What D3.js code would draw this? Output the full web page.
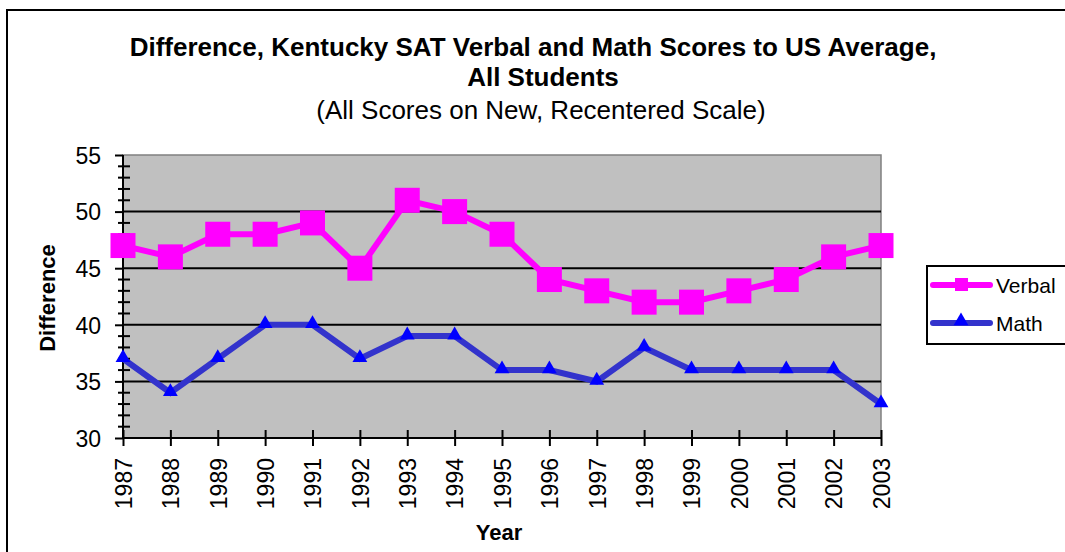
<!DOCTYPE html>
<html>
<head>
<meta charset="utf-8">
<script src="https://cdn.jsdelivr.net/npm/d3@7"></script>
<style>
  body { margin: 0; background: #fff; }
  svg { font-family: "Liberation Sans", Arial, sans-serif; display: block; }
</style>
</head>
<body>
<div id="chart"></div>
<script>
// data
const years = [1987, 1988, 1989, 1990, 1991, 1992, 1993, 1994, 1995, 1996, 1997, 1998, 1999, 2000, 2001, 2002, 2003];
const verbal = [47, 46, 48, 48, 49, 45, 51, 50, 48, 44, 43, 42, 42, 43, 44, 46, 47];
const math = [37, 34, 37, 40, 40, 37, 39, 39, 36, 36, 35, 38, 36, 36, 36, 36, 33];
const yTicks = [30, 35, 40, 45, 50, 55];
const seriesNames = ["Verbal", "Math"];

const W = 1065, H = 552;
const plot = { left: 123, right: 881, top: 155, bottom: 438 };

const svg = d3.select("#chart")
    .append("svg")
    .attr("width", W)
    .attr("height", H);

// outer chart border (runs off right/bottom)
svg.append("rect")
    .attr("x", 7).attr("y", 10)
    .attr("width", 1070).attr("height", 560)
    .attr("fill", "#fff")
    .attr("stroke", "#000")
    .attr("stroke-width", 2);

const x = d3.scalePoint()
    .domain(years)
    .range([plot.left, plot.right]);

const y = d3.scaleLinear()
    .domain([30, 55])
    .range([plot.bottom, plot.top]);

// plot background
svg.append("rect")
    .attr("x", plot.left).attr("y", plot.top)
    .attr("width", plot.right - plot.left)
    .attr("height", plot.bottom - plot.top)
    .attr("fill", "#c0c0c0")
    .attr("stroke", "#808080")
    .attr("stroke-width", 1.5);

// gridlines
svg.selectAll(".grid")
    .data(yTicks.filter(d => d > 30 && d < 55))
    .enter()
    .append("line")
    .attr("class", "grid")
    .attr("x1", plot.left).attr("x2", plot.right)
    .attr("y1", d => y(d)).attr("y2", d => y(d))
    .attr("stroke", "#000")
    .attr("stroke-width", 2);

// y axis
const yAxisGrp = svg.append("g")
    .attr("transform", `translate(${plot.left},0)`)
    .call(d3.axisLeft(y).tickValues(yTicks).tickSize(8).tickPadding(14));
yAxisGrp.select(".domain").attr("stroke-width", 2).attr("d", `M0,${plot.top}V${plot.bottom}`);
yAxisGrp.selectAll(".tick line").attr("stroke-width", 2);
yAxisGrp.selectAll("text").style("font-size", "23px").attr("fill", "#000").attr("dy", "0.36em");

// minor ticks every unit
svg.append("g")
    .selectAll("line")
    .data(d3.range(31, 55).filter(d => d % 5 !== 0))
    .enter()
    .append("line")
    .attr("x1", plot.left - 5).attr("x2", plot.left + 7)
    .attr("y1", d => y(d)).attr("y2", d => y(d))
    .attr("stroke", "#000")
    .attr("stroke-width", 2);

// x axis
const xAxisGrp = svg.append("g")
    .attr("transform", `translate(0,${plot.bottom})`)
    .call(d3.axisBottom(x).tickSizeInner(8).tickSizeOuter(0).tickPadding(6));
xAxisGrp.select(".domain").attr("stroke-width", 2).attr("d", `M${plot.left},0H${plot.right}`);
xAxisGrp.selectAll(".tick line").attr("y1", -8).attr("y2", 8).attr("stroke-width", 2);
xAxisGrp.selectAll("text")
    .style("font-size", "23px")
    .attr("fill", "#000")
    .attr("transform", "rotate(-90)")
    .attr("x", -20).attr("y", 0).attr("dy", "0.36em")
    .style("text-anchor", "end");

// lines
const verbalData = years.map((yr, i) => ({ year: yr, v: verbal[i] }));
const mathData = years.map((yr, i) => ({ year: yr, v: math[i] }));

const line = d3.line()
    .x(d => x(d.year))
    .y(d => y(d.v));

svg.append("path")
    .datum(mathData)
    .attr("fill", "none")
    .attr("stroke", "#3333cc")
    .attr("stroke-width", 6)
    .attr("d", line);

svg.append("path")
    .datum(verbalData)
    .attr("fill", "none")
    .attr("stroke", "#ff00ff")
    .attr("stroke-width", 6)
    .attr("d", line);

const tri = d3.symbol().type(d3.symbolTriangle).size(95);

svg.selectAll(".tri")
    .data(mathData)
    .enter()
    .append("path")
    .attr("class", "tri")
    .attr("transform", d => `translate(${x(d.year)},${y(d.v) - 1})`)
    .attr("d", tri)
    .attr("fill", "#0000ff");

svg.selectAll(".sq")
    .data(verbalData)
    .enter()
    .append("rect")
    .attr("class", "sq")
    .attr("x", d => x(d.year) - 12.5)
    .attr("y", d => y(d.v) - 12.5)
    .attr("width", 25).attr("height", 25)
    .attr("fill", "#ff00ff");

// titles
svg.append("text")
    .attr("x", 533).attr("y", 56)
    .attr("text-anchor", "middle")
    .style("font-size", "26px")
    .style("font-weight", "bold")
    .text("Difference, Kentucky SAT Verbal and Math Scores to US Average,");

svg.append("text")
    .attr("x", 543).attr("y", 86)
    .attr("text-anchor", "middle")
    .style("font-size", "26px")
    .style("font-weight", "bold")
    .text("All Students");

svg.append("text")
    .attr("x", 541).attr("y", 119)
    .attr("text-anchor", "middle")
    .style("font-size", "26px")
    .text("(All Scores on New, Recentered Scale)");

svg.append("text")
    .attr("transform", "rotate(-90)")
    .attr("x", -298).attr("y", 55)
    .attr("text-anchor", "middle")
    .style("font-size", "22px")
    .style("font-weight", "bold")
    .text("Difference");

svg.append("text")
    .attr("x", 499).attr("y", 540)
    .attr("text-anchor", "middle")
    .style("font-size", "22px")
    .style("font-weight", "bold")
    .text("Year");

// legend
const legend = svg.append("g");
legend.append("rect")
    .attr("x", 927).attr("y", 266)
    .attr("width", 160).attr("height", 78)
    .attr("fill", "#fff")
    .attr("stroke", "#000")
    .attr("stroke-width", 2);

const legendColors = { Verbal: "#ff00ff", Math: "#3333cc" };
const legendItems = legend.selectAll(".leg")
    .data(seriesNames)
    .enter()
    .append("g")
    .attr("class", "leg")
    .attr("transform", (d, i) => `translate(0,${285 + i * 38})`);

legendItems.append("line")
    .attr("x1", 933).attr("x2", 990)
    .attr("y1", 0).attr("y2", 0)
    .attr("stroke", d => legendColors[d])
    .attr("stroke-width", 6)
    .attr("stroke-linecap", "round");

legendItems.filter(d => d === "Verbal")
    .append("rect")
    .attr("x", 955).attr("y", -7)
    .attr("width", 13).attr("height", 13)
    .attr("fill", "#ff00ff");

legendItems.filter(d => d === "Math")
    .append("path")
    .attr("transform", "translate(961,-2)")
    .attr("d", tri)
    .attr("fill", "#0000ff");

legendItems.append("text")
    .attr("x", 996).attr("y", 0)
    .attr("dy", "0.36em")
    .style("font-size", "21px")
    .text(d => d);
</script>
</body>
</html>
